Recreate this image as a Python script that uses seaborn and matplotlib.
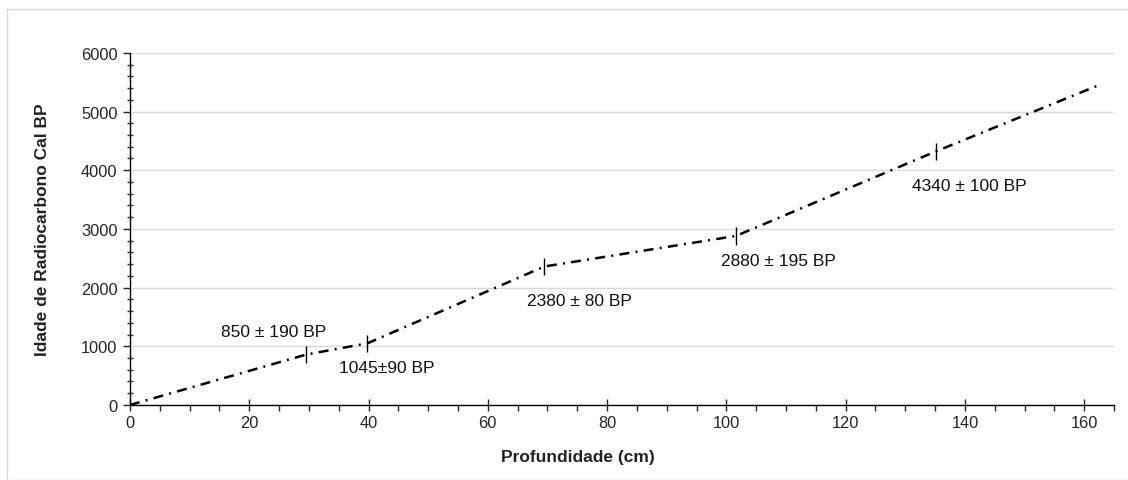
import matplotlib
matplotlib.use("Agg")
import matplotlib.pyplot as plt
import seaborn as sns
import pandas as pd
from matplotlib.ticker import MultipleLocator
from matplotlib.patches import Rectangle

# depth (cm) vs calibrated age
depth = [0, 29.6, 39.8, 69.5, 101.6, 135.1, 162.7]
age = [0, 860, 1050, 2360, 2880, 4320, 5460]

# dated samples (error bars + labels)
dated_depth = [29.6, 39.8, 69.5, 101.6, 135.1]
dated_age = [860, 1050, 2360, 2880, 4320]
dated_err = [150, 150, 150, 150, 150]
dated_labels = ["850 \u00b1 190 BP", "1045\u00b190 BP", "2380 \u00b1 80 BP",
                "2880 \u00b1 195 BP", "4340 \u00b1 100 BP"]

sns.set_style("white")
plt.rcParams['font.family'] = ['Liberation Sans', 'DejaVu Sans']

df = pd.DataFrame({'depth': depth, 'age': age})

fig = plt.figure(figsize=(11.28, 4.81), dpi=100)
ax = fig.add_axes([0.1152, 0.156, 0.8724, 0.732])

# light frame around the chart area
fig.patches.append(Rectangle((7 / 1128, 0), 1.0, 1 - 10 / 481,
                             transform=fig.transFigure, fill=False,
                             edgecolor='#d9d9d9', linewidth=1))

sns.lineplot(data=df, x='depth', y='age', ax=ax, sort=False, color='black',
             linewidth=1.8, linestyle=(0, (4, 2.5, 0.8, 2.5)))
ax.errorbar(dated_depth, dated_age, yerr=dated_err, fmt='none',
            ecolor='black', elinewidth=1, capsize=0)

# label offsets relative to each dated point (data units)
offsets = [(-14.4, 385), (-4.7, -420), (-2.9, -585), (-2.5, -425), (-3.9, -585)]
for xv, yv, lab, (dx, dy) in zip(dated_depth, dated_age, dated_labels, offsets):
    ax.text(xv + dx, yv + dy, lab, ha='left', va='center', fontsize=12.5, color='#111111')

ax.set_xlim(0, 165)
ax.set_ylim(0, 6000)
ax.xaxis.set_major_locator(MultipleLocator(20))
ax.xaxis.set_minor_locator(MultipleLocator(5))
ax.yaxis.set_major_locator(MultipleLocator(1000))
ax.yaxis.set_minor_locator(MultipleLocator(200))

ax.grid(axis='y', color='#d9d9d9', linewidth=1)
ax.grid(axis='x', visible=False)
for s in ['top', 'right']:
    ax.spines[s].set_visible(False)
for s in ['left', 'bottom']:
    ax.spines[s].set_color('black')
    ax.spines[s].set_linewidth(1)

ax.tick_params(axis='x', which='major', direction='inout', length=8, width=1,
               labelsize=11.8, pad=3, bottom=True)
ax.tick_params(axis='x', which='minor', direction='out', length=4, width=1, bottom=True)
ax.tick_params(axis='y', which='major', direction='out', length=5, width=1,
               labelsize=11.8, pad=4, left=True)
ax.tick_params(axis='y', which='minor', direction='inout', length=5, width=1, left=True)

ax.set_xlabel('Profundidade (cm)', fontsize=12.5, fontweight='bold', color='#222222')
ax.xaxis.set_label_coords(0.455, -0.125)
ax.set_ylabel('Idade de Radiocarbono Cal BP', fontsize=12.5, fontweight='bold',
              color='#222222')
ax.yaxis.set_label_coords(-0.081, 0.5)

fig.savefig('out.png', dpi=100)
